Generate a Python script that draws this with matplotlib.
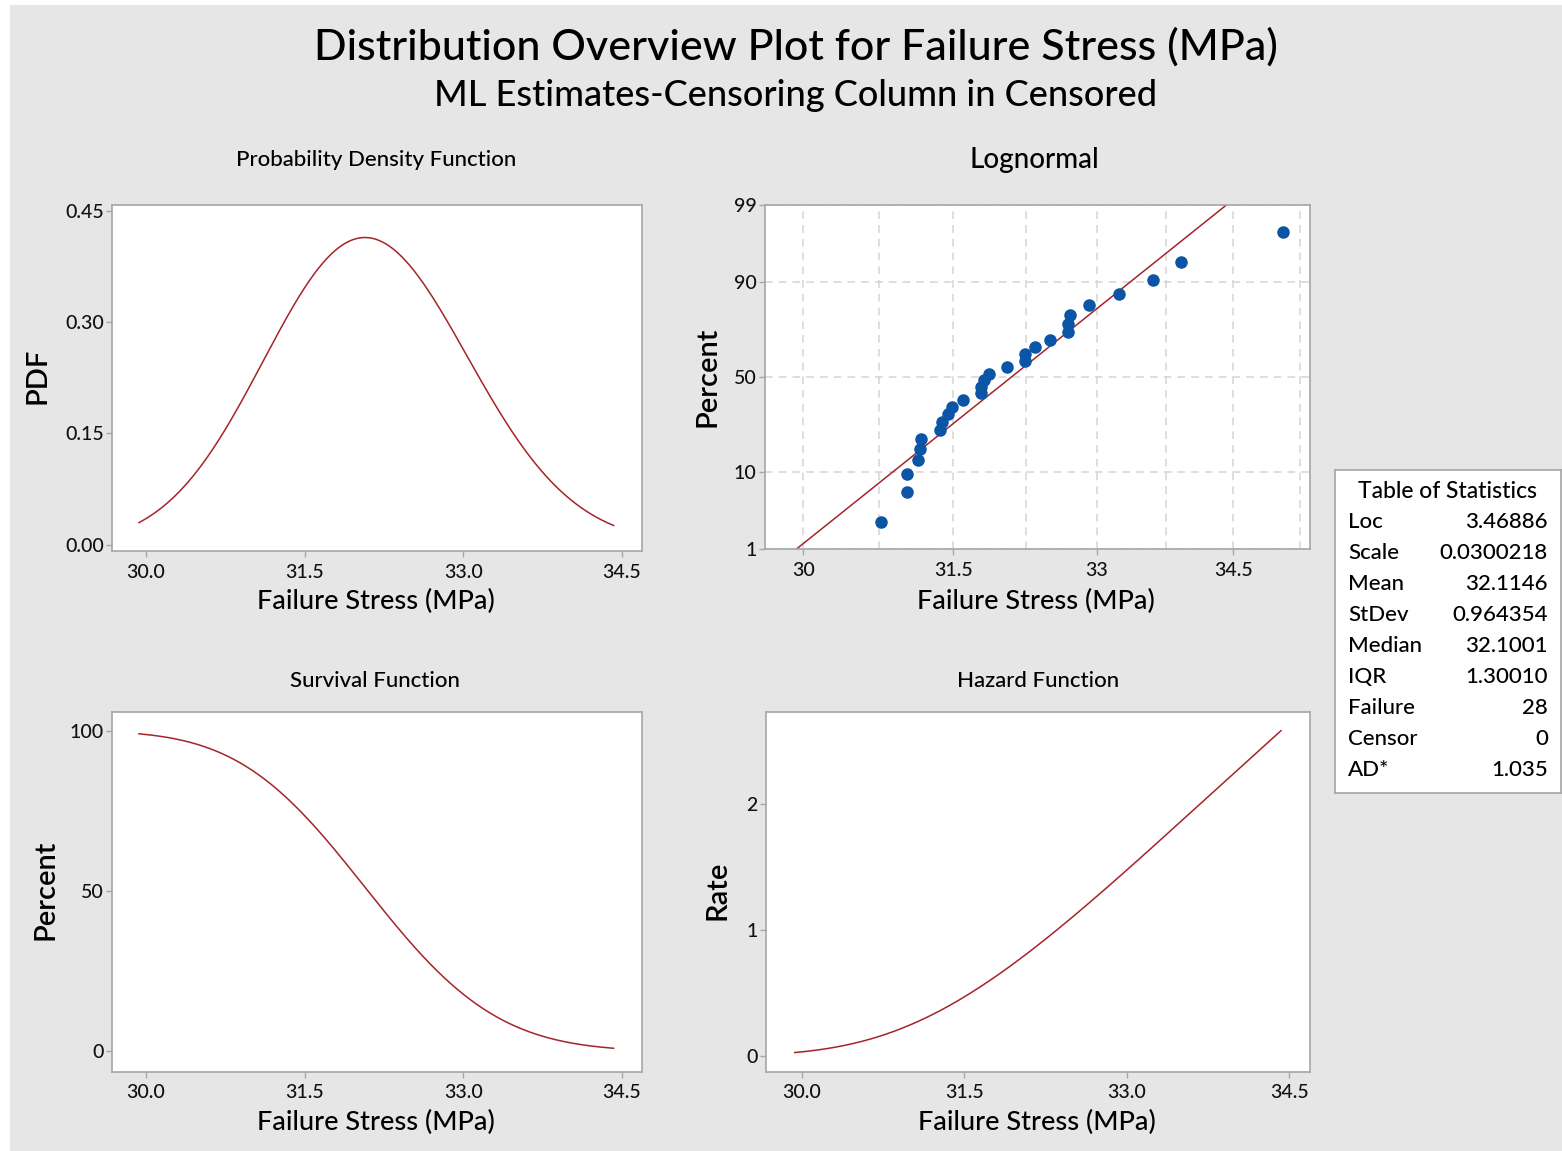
import numpy as np
import matplotlib.pyplot as plt
from matplotlib.patches import Rectangle
from matplotlib.ticker import FixedLocator, NullFormatter
from statistics import NormalDist

W, H = 1562, 1151
plt.rcParams['font.family'] = ['Lato', 'DejaVu Sans']
plt.rcParams['font.weight'] = 'medium'

# lognormal ML estimates (table of statistics)
LOC = 3.46886
SCALE = 0.0300218

# failure stress observations (MPa), sorted
failure_stress = [30.77, 31.03, 31.03, 31.14, 31.16, 31.17, 31.36, 31.38, 31.45, 31.49,
                  31.60, 31.78, 31.78, 31.81, 31.87, 32.05, 32.24, 32.24, 32.35, 32.50,
                  32.70, 32.70, 32.72, 32.92, 33.24, 33.61, 33.92, 35.06]

stat_names = ["Loc", "Scale", "Mean", "StDev", "Median", "IQR", "Failure", "Censor", "AD*"]
stat_values = ["3.46886", "0.0300218", "32.1146", "0.964354", "32.1001",
               "1.30010", "28", "0", "1.035"]

x_ticks = [30.0, 31.5, 33.0, 34.5]
pdf_ticks = [0.00, 0.15, 0.30, 0.45]
surv_ticks = [0, 50, 100]
haz_ticks = [0, 1, 2]
prob_ticks = [1, 10, 50, 90, 99]
prob_x_ticks = [30, 31.5, 33, 34.5]
prob_x_minor = [30.75, 32.25, 33.75, 35.25]

LINE = '#a5242a'
DOT = '#0a55a6'
SPINE = '#a6a6a6'
BG = '#e6e6e6'

nd = NormalDist()


def fx(px):
    return px / W


def fy(py):
    return 1 - py / H


def box(left, top, right, bottom):
    return [fx(left), fy(bottom), (right - left) / W, (bottom - top) / H]


def style(ax):
    for s in ax.spines.values():
        s.set_color(SPINE)
        s.set_linewidth(1.2)
    ax.tick_params(length=4, width=1, color=SPINE, labelsize=14, pad=2, labelcolor='#111111')
    ax.tick_params(axis='x', pad=5)


# fitted distribution curves between the 1st and 99th percentiles
z_lo, z_hi = nd.inv_cdf(0.01), nd.inv_cdf(0.99)
xs = np.exp(LOC + SCALE * np.linspace(z_lo, z_hi, 300))
zs = (np.log(xs) - LOC) / SCALE
pdf = np.exp(-zs ** 2 / 2) / np.sqrt(2 * np.pi) / (xs * SCALE)
surv = 1 - np.array([nd.cdf(z) for z in zs])
hazard = pdf / surv

fig = plt.figure(figsize=(W / 100, H / 100), dpi=100, facecolor='white')
fig.patches.append(Rectangle((fx(10), 0), 1 - fx(10), fy(5), transform=fig.transFigure,
                             facecolor=BG, edgecolor='none', zorder=-10))

fig.text(fx(796), fy(47), "Distribution Overview Plot for Failure Stress (MPa)",
         ha='center', va='center', fontsize=31)
fig.text(fx(796), fy(96), "ML Estimates-Censoring Column in Censored",
         ha='center', va='center', fontsize=26)

# PDF
ax1 = fig.add_axes(box(112, 205, 642, 551))
ax1.plot(xs, pdf, color=LINE, lw=1.1)
ax1.set_xlim(29.68, 34.69)
ax1.set_ylim(-0.0086, 0.458)
ax1.set_xticks(x_ticks, [f"{v:.1f}" for v in x_ticks])
ax1.set_yticks(pdf_ticks, [f"{v:.2f}" for v in pdf_ticks])
style(ax1)

# lognormal probability plot
n = len(failure_stress)
ranks = np.arange(1, n + 1)
pz = [nd.inv_cdf((i - 0.3) / (n + 0.4)) for i in ranks]
ax2 = fig.add_axes(box(765, 205, 1310, 549))
ax2.set_xscale('log')
ax2.grid(True, which='both', axis='x', color='#d4d4d4', ls=(0, (5, 4)), lw=1.1)
ax2.grid(True, which='major', axis='y', color='#d4d4d4', ls=(0, (5, 4)), lw=1.1)
ax2.set_axisbelow(True)
fit_z = np.array([z_lo, z_hi])
ax2.plot(np.exp(LOC + SCALE * fit_z), fit_z, color=LINE, lw=1.1)
ax2.plot(failure_stress, pz, 'o', color=DOT, ms=8, mec=DOT)
ax2.set_xlim(29.63, 35.37)
ax2.set_ylim(z_lo, z_hi)
ax2.xaxis.set_major_locator(FixedLocator(prob_x_ticks))
ax2.xaxis.set_minor_locator(FixedLocator(prob_x_minor))
ax2.xaxis.set_minor_formatter(NullFormatter())
ax2.set_xticklabels([f"{v:g}" for v in prob_x_ticks])
ax2.set_yticks([nd.inv_cdf(p / 100) for p in prob_ticks], [str(p) for p in prob_ticks])
style(ax2)
ax2.tick_params(which='minor', length=0)

# survival
ax3 = fig.add_axes(box(112, 712, 642, 1072))
ax3.plot(xs, surv * 100, color=LINE, lw=1.1)
ax3.set_xlim(29.68, 34.69)
ax3.set_ylim(-6.4, 105.8)
ax3.set_xticks(x_ticks, [f"{v:.1f}" for v in x_ticks])
ax3.set_yticks(surv_ticks, [str(v) for v in surv_ticks])
style(ax3)

# hazard
ax4 = fig.add_axes(box(766, 712, 1310, 1072))
ax4.plot(xs, hazard, color=LINE, lw=1.1)
ax4.set_xlim(29.67, 34.69)
ax4.set_ylim(-0.124, 2.727)
ax4.set_xticks(x_ticks, [f"{v:.1f}" for v in x_ticks])
ax4.set_yticks(haz_ticks, [str(v) for v in haz_ticks])
style(ax4)

# panel titles and axis labels
fig.text(fx(376), fy(160), "Probability Density Function", ha='center', va='center', fontsize=16)
fig.text(fx(1034), fy(160), "Lognormal", ha='center', va='center', fontsize=20)
fig.text(fx(375), fy(681), "Survival Function", ha='center', va='center', fontsize=16)
fig.text(fx(1038), fy(681), "Hazard Function", ha='center', va='center', fontsize=16)
for cx, cy in [(376, 601), (1036, 601), (376, 1122), (1037, 1122)]:
    fig.text(fx(cx), fy(cy), "Failure Stress (MPa)", ha='center', va='center', fontsize=19.5)
for label, cx, cy in [("PDF", 38, 376), ("Percent", 707, 377),
                      ("Percent", 45, 890), ("Rate", 718, 890)]:
    fig.text(fx(cx), fy(cy), label, ha='center', va='center', rotation=90,
             fontsize=21, fontweight='semibold')

# statistics table
axt = fig.add_axes(box(1335, 470, 1561, 793))
axt.set_xticks([])
axt.set_yticks([])
for s in axt.spines.values():
    s.set_color(SPINE)
    s.set_linewidth(1.2)
axt.set_xlim(1335, 1561)
axt.set_ylim(793, 470)
axt.text(1448, 491, "Table of Statistics", ha='center', va='center', fontsize=16.5)
for k, (name, val) in enumerate(zip(stat_names, stat_values)):
    y = 522 + k * 31
    axt.text(1348, y, name, ha='left', va='center', fontsize=16)
    axt.text(1548, y, val, ha='right', va='center', fontsize=16)

fig.savefig("out.png", dpi=100, facecolor=fig.get_facecolor())
